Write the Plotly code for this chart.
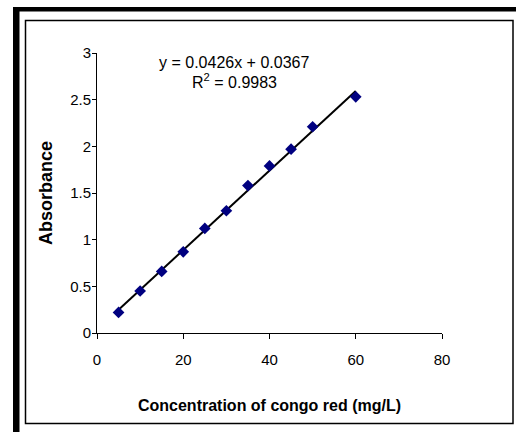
import plotly.graph_objects as go

# Calibration data: congo red concentration vs absorbance
concentration = [5, 10, 15, 20, 25, 30, 35, 40, 45, 50, 60]
absorbance = [0.22, 0.45, 0.66, 0.87, 1.12, 1.31, 1.58, 1.79, 1.97, 2.21, 2.53]

# Linear fit reported on the chart
slope = 0.0426
intercept = 0.0367
r_squared = 0.9983

x_ticks = [0, 20, 40, 60, 80]
y_ticks = [0, 0.5, 1, 1.5, 2, 2.5, 3]

FONT = "Liberation Sans, Arial, sans-serif"
W, H = 516, 432
L, R, T, B = 97, 442, 53, 333  # plot area in pixels


def px(x):
    return (x - L) / (R - L)


def py(y):
    return (B - y) / (B - T)


fit_x = [min(concentration), max(concentration)]
fit_y = [slope * v + intercept for v in fit_x]

fig = go.Figure()
fig.add_trace(go.Scatter(
    x=fit_x, y=fit_y, mode="lines",
    line=dict(color="black", width=2), showlegend=False, hoverinfo="skip",
))
fig.add_trace(go.Scatter(
    x=concentration, y=absorbance, mode="markers",
    marker=dict(symbol="diamond", size=9, color="#000080",
                line=dict(color="#000080", width=0)),
    showlegend=False,
))

eq_text = f"y = {slope}x + {intercept}"
r2_text = f"R<sup>2</sup> = {r_squared}"
fig.add_annotation(x=31.8, y=2.895, xref="x", yref="y", text=eq_text,
                   showarrow=False, font=dict(family=FONT, size=16, color="black"))
fig.add_annotation(x=31.8, y=2.70, xref="x", yref="y", text=r2_text,
                   showarrow=False, font=dict(family=FONT, size=16, color="black"))

# Frame: heavy black border (top and left) and thin inner border
fig.add_shape(type="rect", xref="paper", yref="paper",
              x0=px(13), x1=px(520), y0=py(7), y1=py(11.5),
              fillcolor="black", line=dict(width=0), layer="above")
fig.add_shape(type="rect", xref="paper", yref="paper",
              x0=px(13), x1=px(19.5), y0=py(7), y1=py(440),
              fillcolor="black", line=dict(width=0), layer="above")
fig.add_shape(type="rect", xref="paper", yref="paper",
              x0=px(25.5), x1=px(513), y0=py(20.5), y1=py(423.5),
              line=dict(color="black", width=1.5), fillcolor="rgba(0,0,0,0)")

fig.update_layout(
    width=W, height=H,
    margin=dict(l=L, r=W - R, t=T, b=H - B, pad=0),
    paper_bgcolor="white", plot_bgcolor="white",
    font=dict(family=FONT, color="black"),
)
fig.update_xaxes(
    range=[0, 80], tickvals=x_ticks, showgrid=False, zeroline=False,
    showline=True, linecolor="black", linewidth=1,
    ticks="outside", ticklen=5, tickcolor="black", tickwidth=1,
    tickfont=dict(family=FONT, size=15, color="black"),
    ticklabelstandoff=8,
    title=dict(text="<b>Concentration of congo red (mg/L)</b>",
               font=dict(family=FONT, size=16, color="black"), standoff=32),
)
fig.update_yaxes(
    range=[0, 3], tickvals=y_ticks, showgrid=False, zeroline=False,
    showline=True, linecolor="black", linewidth=1,
    ticks="outside", ticklen=4, tickcolor="black", tickwidth=1,
    tickfont=dict(family=FONT, size=15, color="black"),
    ticklabelstandoff=-2,
    title=dict(text="<b>Absorbance</b>",
               font=dict(family=FONT, size=18, color="black"), standoff=12),
)

fig.write_html("out.html")
